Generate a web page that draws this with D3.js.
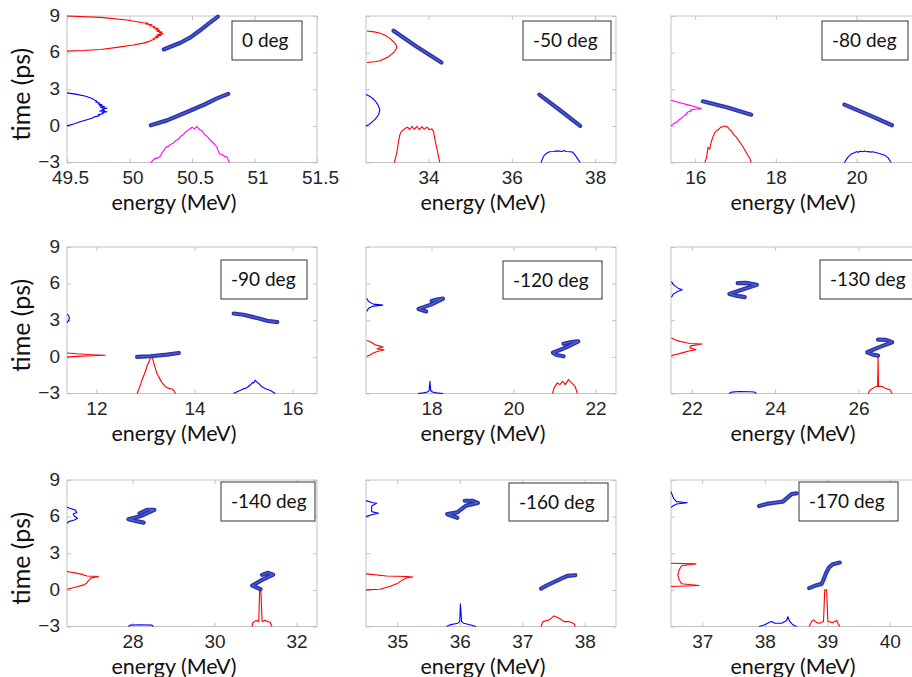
<!DOCTYPE html>
<html><head><meta charset="utf-8">
<script src="https://cdn.jsdelivr.net/npm/d3@7"></script>
<style>body{margin:0;background:#fff}svg{display:block}</style>
</head><body>
<svg id="chart" width="912" height="677"></svg>
<script>
// ---------------- DATA ----------------
const panelLabels = ["0 deg","-50 deg","-80 deg","-90 deg","-120 deg","-130 deg","-140 deg","-160 deg","-170 deg"];
const energyDomains = [[49.5,51.5],[32.5,38.5],[15.4,21.6],[11.4,16.5],[16.4,22.5],[21.5,27.5],[26.4,32.5],[34.5,38.5],[36.5,40.5]];
const energyTicks = [[49.5,50,50.5,51,51.5],[34,36,38],[16,18,20],[12,14,16],[18,20,22],[22,24,26],[28,30,32],[35,36,37,38],[37,38,39,40]];
const timeDomain = [-3, 9];
const timeTicks = [-3, 0, 3, 6, 9];
const xLabel = "energy (MeV)";
const yLabel = "time (ps)";

// 0 deg
const deg0_bunchTop = [[50.274,6.26],[50.327,6.48],[50.408,6.81],[50.488,7.25],[50.568,7.85],[50.635,8.4],[50.689,8.81],[50.707,8.95]];
const deg0_bunchBottom = [[50.17,0.05],[50.3,0.45],[50.46,1.14],[50.6,1.75],[50.7,2.25],[50.79,2.62]];
const deg0_redTime = [[49.5,9.0],[49.77,8.89],[49.98,8.67],[50.11,8.45],[50.15,8.4],[50.13,8.34],[50.18,8.28],[50.16,8.2],[50.2,8.14],[50.19,8.05],[50.23,7.98],[50.21,7.9],[50.24,7.82],[50.22,7.74],[50.26,7.68],[50.24,7.6],[50.27,7.52],[50.22,7.46],[50.25,7.4],[50.21,7.33],[50.23,7.25],[50.19,7.17],[50.2,7.09],[50.17,7.0],[50.16,6.92],[50.11,6.78],[50.03,6.62],[49.9,6.43],[49.77,6.26],[49.63,6.17],[49.5,6.12]];
const deg0_blueTime = [[49.5,2.7],[49.58,2.58],[49.65,2.42],[49.7,2.25],[49.72,2.12],[49.74,2.02],[49.73,1.95],[49.76,1.88],[49.75,1.8],[49.78,1.72],[49.76,1.64],[49.8,1.58],[49.77,1.5],[49.82,1.44],[49.78,1.36],[49.8,1.28],[49.76,1.22],[49.82,1.16],[49.78,1.08],[49.79,1.0],[49.75,0.92],[49.76,0.84],[49.72,0.74],[49.7,0.62],[49.66,0.5],[49.61,0.36],[49.56,0.18],[49.5,0.0]];
const deg0_magentaEnergy = [[50.17,-3.0],[50.19,-2.8],[50.2,-2.68],[50.23,-2.62],[50.25,-2.45],[50.26,-2.2],[50.28,-1.95],[50.29,-1.75],[50.31,-1.68],[50.33,-1.5],[50.35,-1.42],[50.37,-1.2],[50.39,-1.1],[50.41,-0.85],[50.43,-0.72],[50.45,-0.5],[50.47,-0.35],[50.49,-0.2],[50.5,-0.1],[50.52,-0.25],[50.54,-0.05],[50.56,-0.3],[50.58,-0.4],[50.6,-0.7],[50.62,-0.85],[50.64,-1.1],[50.66,-1.3],[50.68,-1.5],[50.7,-1.75],[50.71,-2.05],[50.72,-2.3],[50.74,-2.35],[50.76,-2.5],[50.78,-2.55],[50.79,-2.8],[50.8,-3.0]];

// -50 deg
const deg50_bunchA = [[33.16,7.8],[33.71,6.5],[34.31,5.19]];
const deg50_bunchB = [[36.66,2.56],[37.15,1.3],[37.64,0.0]];
const deg50_redTime = [[32.52,7.77],[32.7,7.7],[32.84,7.58],[32.96,7.42],[33.04,7.25],[33.11,7.05],[33.16,6.89],[33.2,6.72],[33.22,6.62],[33.24,6.48],[33.22,6.3],[33.2,6.15],[33.16,5.99],[33.1,5.84],[33.04,5.66],[32.94,5.5],[32.84,5.33],[32.7,5.25],[32.52,5.19]];
const deg50_blueTime = [[32.5,2.56],[32.6,2.4],[32.68,2.2],[32.74,1.96],[32.79,1.7],[32.82,1.45],[32.83,1.28],[32.81,1.0],[32.78,0.8],[32.72,0.55],[32.64,0.3],[32.57,0.1],[32.5,0.0]];
const deg50_redEnergy = [[33.18,-3.0],[33.24,-2.2],[33.28,-1.3],[33.31,-0.75],[33.35,-0.45],[33.39,-0.35],[33.44,-0.2],[33.5,-0.12],[33.55,-0.3],[33.6,-0.05],[33.66,-0.28],[33.72,-0.05],[33.78,-0.3],[33.84,-0.06],[33.9,-0.28],[33.96,-0.1],[34.02,-0.3],[34.08,-0.25],[34.12,-0.45],[34.16,-1.2],[34.2,-1.85],[34.24,-2.5],[34.27,-3.0]];
const deg50_blueEnergy = [[36.7,-3.0],[36.76,-2.5],[36.82,-2.28],[36.9,-2.12],[37.0,-2.1],[37.1,-2.05],[37.2,-2.1],[37.25,-2.02],[37.3,-2.1],[37.4,-2.12],[37.46,-2.15],[37.52,-2.4],[37.58,-2.7],[37.64,-3.0]];

// -80 deg
const deg80_bunchA = [[16.19,2.01],[16.8,1.5],[17.39,0.92]];
const deg80_bunchB = [[19.7,1.74],[20.3,0.9],[20.88,0.05]];
const deg80_magentaTime = [[15.4,2.1],[15.6,1.92],[15.8,1.74],[16.0,1.56],[16.15,1.41],[16.0,1.36],[15.88,1.3],[15.9,1.22],[15.8,1.12],[15.8,1.0],[15.74,0.87],[15.72,0.8],[15.68,0.7],[15.66,0.6],[15.6,0.5],[15.55,0.34],[15.47,0.18],[15.4,0.0]];
const deg80_redEnergy = [[16.24,-3.0],[16.28,-2.6],[16.32,-1.75],[16.36,-1.9],[16.4,-1.3],[16.44,-0.9],[16.48,-0.6],[16.53,-0.4],[16.58,-0.3],[16.63,-0.12],[16.68,-0.08],[16.72,0.0],[16.76,-0.1],[16.8,-0.05],[16.85,-0.3],[16.9,-0.4],[16.95,-0.7],[17.02,-0.92],[17.1,-1.3],[17.19,-1.73],[17.25,-2.1],[17.31,-2.42],[17.36,-2.7],[17.39,-3.0]];
const deg80_blueEnergy = [[19.7,-3.0],[19.78,-2.6],[19.87,-2.3],[19.95,-2.2],[20.0,-2.12],[20.05,-2.15],[20.1,-2.08],[20.15,-2.12],[20.2,-2.05],[20.25,-2.12],[20.3,-2.1],[20.35,-2.15],[20.4,-2.12],[20.5,-2.2],[20.6,-2.3],[20.7,-2.4],[20.78,-2.6],[20.86,-3.0]];

// -90 deg
const deg90_bunchA = [[12.83,0.0],[13.1,0.05],[13.44,0.18],[13.68,0.32]];
const deg90_bunchB = [[14.8,3.55],[15.0,3.45],[15.28,3.18],[15.48,2.96],[15.69,2.85]];
const deg90_blueTime = [[11.4,3.5],[11.43,3.4],[11.45,3.18],[11.43,2.95],[11.4,2.8]];
const deg90_redTime = [[11.4,0.32],[11.6,0.25],[11.9,0.18],[12.18,0.13],[11.9,0.09],[11.6,0.04],[11.4,-0.02]];
const deg90_redEnergy = [[12.83,-3.0],[12.87,-2.6],[12.9,-2.27],[12.93,-1.9],[12.96,-1.59],[13.0,-1.2],[13.03,-0.77],[13.07,-0.4],[13.1,-0.1],[13.13,0.0],[13.15,-0.2],[13.17,-0.5],[13.2,-0.9],[13.23,-1.31],[13.28,-1.7],[13.34,-2.13],[13.4,-2.4],[13.44,-2.53],[13.5,-2.6],[13.54,-2.62],[13.58,-2.75],[13.61,-3.0]];
const deg90_blueEnergy = [[14.8,-3.0],[14.87,-2.85],[14.94,-2.73],[15.0,-2.62],[15.07,-2.53],[15.14,-2.3],[15.19,-2.1],[15.21,-2.13],[15.24,-1.91],[15.27,-2.05],[15.31,-2.18],[15.36,-2.4],[15.41,-2.53],[15.48,-2.65],[15.55,-2.76],[15.65,-3.0]];

// -120 deg
const deg120_bunchA = [[18.0,4.58],[18.13,4.7],[18.28,4.78],[18.0,4.3],[17.68,3.93],[17.87,3.72]];
const deg120_bunchB = [[21.22,1.08],[21.4,1.22],[21.58,1.27],[21.3,0.8],[20.96,0.34],[21.05,0.15],[21.22,0.05]];
const deg120_blueTime = [[16.42,4.81],[16.46,4.54],[16.58,4.32],[16.81,4.24],[16.58,4.16],[16.46,3.99],[16.42,3.72]];
const deg120_redTime = [[16.42,1.35],[16.51,1.24],[16.62,1.0],[16.7,0.92],[16.82,0.81],[16.72,0.73],[16.67,0.65],[16.78,0.6],[16.84,0.57],[16.7,0.46],[16.59,0.33],[16.5,0.16],[16.42,0.05]];
const deg120_blueEnergy = [[17.67,-3.0],[17.8,-2.95],[17.9,-2.88],[17.94,-2.78],[17.96,-2.0],[17.98,-2.78],[18.02,-2.88],[18.12,-2.95],[18.28,-3.0]];
const deg120_redEnergy = [[20.95,-3.0],[20.99,-2.54],[21.07,-2.13],[21.13,-2.27],[21.2,-2.0],[21.26,-2.27],[21.34,-1.86],[21.42,-2.13],[21.5,-2.41],[21.56,-3.0]];

// -130 deg
const deg130_bunchA = [[23.1,6.04],[23.3,6.06],[23.56,5.9],[23.2,5.5],[22.9,5.16],[23.05,5.02],[23.27,4.9]];
const deg130_bunchB = [[26.47,1.41],[26.65,1.4],[26.81,1.2],[26.5,0.8],[26.21,0.38],[26.33,0.2],[26.47,0.1]];
const deg130_blueTime = [[21.51,6.17],[21.56,5.9],[21.67,5.63],[21.77,5.49],[21.67,5.38],[21.56,5.16],[21.51,4.89]];
const deg130_redTime = [[21.51,1.54],[21.6,1.4],[21.71,1.27],[21.85,1.18],[21.95,1.1],[22.25,1.05],[21.97,0.9],[21.95,0.75],[22.1,0.58],[21.95,0.5],[21.79,0.35],[21.62,0.2],[21.51,0.1]];
const deg130_redEnergy = [[26.23,-3.0],[26.27,-2.73],[26.36,-2.54],[26.43,-2.42],[26.46,-2.42],[26.47,0.0],[26.48,-2.42],[26.51,-2.4],[26.59,-2.46],[26.67,-2.62],[26.75,-2.67],[26.81,-3.0]];
const deg130_blueEnergy = [[22.89,-3.0],[22.95,-2.89],[23.15,-2.84],[23.39,-2.86],[23.5,-2.88],[23.55,-3.0]];

// -140 deg
const deg140_bunchA = [[28.17,6.27],[28.35,6.55],[28.53,6.55],[28.2,6.05],[27.9,5.78],[28.07,5.65],[28.27,5.51]];
const deg140_bunchB = [[31.16,1.23],[31.3,1.4],[31.43,1.25],[31.15,0.8],[30.92,0.35],[31.02,0.2],[31.12,0.05]];
const deg140_blueTime = [[26.4,6.76],[26.6,6.55],[26.64,6.33],[26.55,6.22],[26.58,6.05],[26.66,5.86],[26.58,5.73],[26.44,5.59],[26.4,5.45]];
const deg140_redTime = [[26.4,1.5],[26.72,1.31],[26.89,1.14],[27.17,1.09],[26.97,0.96],[26.95,0.82],[26.9,0.68],[26.88,0.55],[26.81,0.41],[26.6,0.22],[26.4,0.05]];
const deg140_redEnergy = [[30.91,-3.0],[30.94,-2.67],[31.02,-2.5],[31.08,-2.59],[31.1,0.0],[31.13,0.0],[31.16,-2.59],[31.24,-2.5],[31.36,-2.67],[31.4,-3.0]];
const deg140_blueEnergy = [[27.9,-3.0],[27.94,-2.89],[28.18,-2.86],[28.47,-2.89],[28.51,-3.0]];

// -160 deg
const deg160_bunchA = [[36.08,7.3],[36.2,7.3],[36.29,7.12],[36.1,6.9],[35.96,6.35],[35.8,6.2],[35.96,5.9]];
const deg160_bunchB = [[37.3,0.11],[37.41,0.41],[37.54,0.71],[37.64,0.96],[37.72,1.14],[37.85,1.2]];
const deg160_blueTime = [[34.5,7.31],[34.61,7.14],[34.67,7.09],[34.59,6.87],[34.59,6.41],[34.7,6.27],[34.59,6.15],[34.5,6.0]];
const deg160_redTime = [[34.5,1.31],[34.83,1.14],[35.15,1.09],[35.25,1.06],[35.14,0.98],[35.07,0.76],[35.01,0.55],[34.88,0.27],[34.72,0.05],[34.5,0.0]];
const deg160_blueEnergy = [[35.79,-3.0],[35.84,-2.87],[35.97,-2.73],[36.0,-2.6],[36.01,-1.15],[36.03,-2.6],[36.06,-2.73],[36.18,-2.87],[36.26,-3.0]];
const deg160_redEnergy = [[37.3,-3.0],[37.33,-2.6],[37.43,-2.46],[37.51,-2.13],[37.59,-2.32],[37.67,-2.6],[37.75,-2.6],[37.83,-2.78],[37.85,-3.0]];

// -170 deg
const deg170_bunchA = [[37.91,6.87],[38.03,7.04],[38.16,7.14],[38.29,7.23],[38.35,7.5],[38.43,7.85],[38.51,7.91]];
const deg170_bunchB = [[38.71,0.14],[38.8,0.33],[38.91,0.49],[38.94,0.82],[38.98,1.36],[39.03,1.85],[39.09,2.1],[39.2,2.24]];
const deg170_blueTime = [[36.5,8.05],[36.54,7.5],[36.59,7.23],[36.76,7.14],[36.59,7.04],[36.53,6.87],[36.5,6.76]];
const deg170_redTime = [[36.5,2.18],[36.9,2.13],[36.67,1.98],[36.63,1.64],[36.61,1.23],[36.63,0.82],[36.67,0.5],[36.95,0.36],[36.5,0.28]];
const deg170_blueEnergy = [[37.91,-3.0],[38.0,-2.86],[38.07,-2.68],[38.11,-2.59],[38.16,-2.73],[38.27,-2.73],[38.35,-2.51],[38.37,-2.19],[38.4,-2.59],[38.45,-2.86],[38.51,-3.0]];
const deg170_redEnergy = [[38.71,-3.0],[38.75,-2.59],[38.78,-2.46],[38.83,-2.68],[38.88,-2.73],[38.94,-2.59],[38.96,0.0],[38.99,0.0],[39.01,-2.59],[39.09,-2.68],[39.15,-2.51],[39.17,-2.73],[39.2,-3.0]];

// table built from the arrays above: [points, kind]
const panelSeries = [
  [[deg0_redTime,"red"],[deg0_blueTime,"blue"],[deg0_magentaEnergy,"magenta"],[deg0_bunchTop,"bunch"],[deg0_bunchBottom,"bunch"]],
  [[deg50_redTime,"red"],[deg50_blueTime,"blue"],[deg50_redEnergy,"red"],[deg50_blueEnergy,"blue"],[deg50_bunchA,"bunch"],[deg50_bunchB,"bunch"]],
  [[deg80_magentaTime,"magenta"],[deg80_redEnergy,"red"],[deg80_blueEnergy,"blue"],[deg80_bunchA,"bunch"],[deg80_bunchB,"bunch"]],
  [[deg90_blueTime,"blue"],[deg90_redTime,"red"],[deg90_redEnergy,"red"],[deg90_blueEnergy,"blue"],[deg90_bunchA,"bunch"],[deg90_bunchB,"bunch"]],
  [[deg120_blueTime,"blue"],[deg120_redTime,"red"],[deg120_blueEnergy,"blue"],[deg120_redEnergy,"red"],[deg120_bunchA,"bunch"],[deg120_bunchB,"bunch"]],
  [[deg130_blueTime,"blue"],[deg130_redTime,"red"],[deg130_redEnergy,"red"],[deg130_blueEnergy,"blue"],[deg130_bunchA,"bunch"],[deg130_bunchB,"bunch"]],
  [[deg140_blueTime,"blue"],[deg140_redTime,"red"],[deg140_redEnergy,"red"],[deg140_blueEnergy,"blue"],[deg140_bunchA,"bunch"],[deg140_bunchB,"bunch"]],
  [[deg160_blueTime,"blue"],[deg160_redTime,"red"],[deg160_blueEnergy,"blue"],[deg160_redEnergy,"red"],[deg160_bunchA,"bunch"],[deg160_bunchB,"bunch"]],
  [[deg170_blueTime,"blue"],[deg170_redTime,"red"],[deg170_blueEnergy,"blue"],[deg170_redEnergy,"red"],[deg170_bunchA,"bunch"],[deg170_bunchB,"bunch"]]
];

// ---------------- LAYOUT / STYLE ----------------
const colX = [67, 366, 671], rowY = [16, 247, 480], W = 250, H = 146.5;
const xLabelCX = [174, 483, 793];
const labelBoxes = [[232,21,70,39],[523,21,88,39],[822,21,86,39],[221,260,86,39],[503,261,99,38],[820,260,100,39],[221,482,94,39],[509,483,99,38],[799,482,99,39]];
const colors = {red:"#ff0000", blue:"#0000ff", magenta:"#ff00ff"};
const frameColor = "#c2c2c2";
const tickFont = "'Liberation Sans', Arial, sans-serif";
const labelFont = "Lato, 'Open Sans', sans-serif";

const svg = d3.select("#chart");

panelSeries.forEach((series, i) => {
  const r = Math.floor(i / 3), c = i % 3;
  const x0 = colX[c], y0 = rowY[r];
  const x = d3.scaleLinear().domain(energyDomains[i]).range([x0, x0 + W]);
  const y = d3.scaleLinear().domain(timeDomain).range([y0 + H, y0]);
  const g = svg.append("g");

  const styleAxis = sel => {
    sel.select(".domain").remove();
    sel.selectAll(".tick line").attr("stroke", frameColor);
    sel.selectAll(".tick text").attr("font-family", tickFont).attr("font-size", 19).attr("fill", "#262626");
  };
  const bottomAxis = g.append("g").attr("transform", `translate(0,${y0 + H})`)
    .call(d3.axisBottom(x).tickValues(energyTicks[i]).tickSize(-4).tickPadding(8).tickFormat(d3.format("")))
    .call(styleAxis);
  if (i === 0) bottomAxis.selectAll(".tick text").attr("dx", 3);
  g.append("g").attr("transform", `translate(0,${y0})`)
    .call(d3.axisTop(x).tickValues(energyTicks[i]).tickSize(-4).tickFormat(""))
    .call(styleAxis);
  g.append("g").attr("transform", `translate(${x0},0)`)
    .call(d3.axisLeft(y).tickValues(timeTicks).tickSize(-4).tickPadding(7).tickFormat(c === 0 ? d3.format("") : ""))
    .call(styleAxis)
    .call(s => s.selectAll(".tick text").attr("dy", "0.28em"));
  g.append("g").attr("transform", `translate(${x0 + W},0)`)
    .call(d3.axisRight(y).tickValues(timeTicks).tickSize(-4).tickFormat(""))
    .call(styleAxis);

  g.append("rect").attr("x", x0).attr("y", y0).attr("width", W).attr("height", H)
    .attr("fill", "none").attr("stroke", frameColor).attr("stroke-width", 1);

  const line = d3.line().x(d => x(d[0])).y(d => y(d[1]));

  series.forEach(([pts, kind]) => {
    if (kind === "bunch") {
      g.append("path").attr("d", line(pts)).attr("fill", "none")
        .attr("stroke", "#3131b0").attr("stroke-width", 4.2)
        .attr("stroke-linecap", "round").attr("stroke-linejoin", "round");
      g.append("path").attr("d", line(pts)).attr("fill", "none")
        .attr("stroke", "#4a7fd0").attr("stroke-width", 1.2).attr("stroke-opacity", 0.7)
        .attr("stroke-linecap", "round").attr("stroke-linejoin", "round");
    } else {
      g.append("path").attr("d", line(pts)).attr("fill", "none")
        .attr("stroke", colors[kind]).attr("stroke-width", 1.1).attr("stroke-linejoin", "round");
    }
  });

  g.append("text").attr("x", xLabelCX[c]).attr("y", y0 + H + 47)
    .attr("text-anchor", "middle").attr("font-family", labelFont).attr("font-size", 21.5)
    .attr("fill", "#111").text(xLabel);
  if (c === 0) {
    g.append("text").attr("transform", `translate(30,${y0 + H / 2 + 5}) rotate(-90)`)
      .attr("text-anchor", "middle").attr("font-family", labelFont).attr("font-size", 25)
      .attr("fill", "#111").text(yLabel);
  }
  const b = labelBoxes[i];
  g.append("rect").attr("x", b[0]).attr("y", b[1]).attr("width", b[2]).attr("height", b[3])
    .attr("fill", "#fff").attr("stroke", "#333").attr("stroke-width", 1);
  g.append("text").attr("x", b[0] + 10).attr("y", b[1] + b[3] / 2 + 6.5)
    .attr("font-family", labelFont).attr("font-size", 19).attr("fill", "#111").text(panelLabels[i]);
});
</script>
</body></html>
